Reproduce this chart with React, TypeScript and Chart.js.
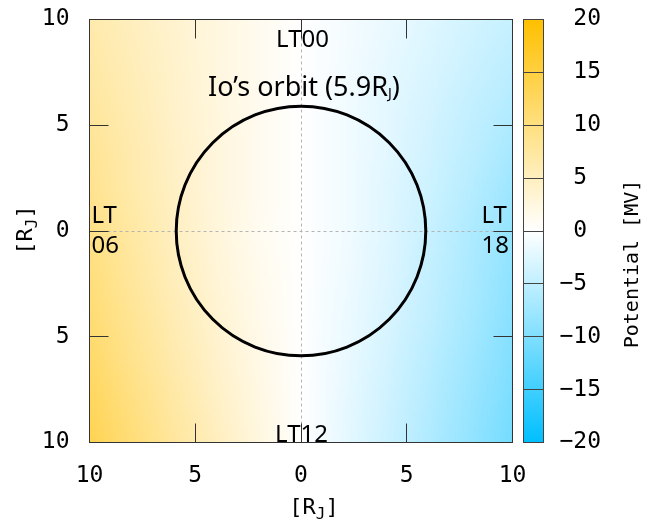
import React, { useEffect, useRef } from 'react';
import { Chart, registerables } from 'chart.js';

Chart.register(...registerables);

// ---- Data ----
const X_NODES = [-10, -8, -6, -4, -2, 0, 2, 4, 6, 8, 10];
const Y_NODES = [10, 8, 6, 4, 2, 0, -2, -4, -6, -8, -10];

// Potential [MV] along each row (x = -10 ... 10)
const ROW_Y_P10 = [6.5, 5.0, 3.7, 2.4, 1.2, 0, -0.8, -1.6, -2.5, -3.5, -4.5];
const ROW_Y_P8 = [7.0, 5.4, 3.9, 2.5, 1.2, 0, -0.9, -1.9, -2.9, -4.0, -5.2];
const ROW_Y_P6 = [7.6, 5.8, 4.1, 2.6, 1.2, 0, -1.0, -2.1, -3.3, -4.6, -6.0];
const ROW_Y_P4 = [8.2, 6.2, 4.3, 2.7, 1.2, 0, -1.0, -2.2, -3.6, -5.1, -6.8];
const ROW_Y_P2 = [8.8, 6.5, 4.5, 2.7, 1.2, 0, -1.0, -2.4, -3.9, -5.7, -7.7];
const ROW_Y_0 = [9.5, 7.1, 4.8, 2.8, 1.1, 0, -1.0, -2.5, -4.3, -6.3, -8.5];
const ROW_Y_M2 = [10.2, 7.6, 5.2, 3.1, 1.4, 0, -1.2, -2.7, -4.6, -6.6, -8.9];
const ROW_Y_M4 = [10.9, 8.2, 5.7, 3.5, 1.6, 0, -1.4, -3.0, -4.9, -7.0, -9.3];
const ROW_Y_M6 = [11.7, 8.9, 6.3, 4.0, 1.9, 0, -1.6, -3.4, -5.4, -7.5, -9.9];
const ROW_Y_M8 = [12.6, 9.7, 7.0, 4.5, 2.2, 0, -1.8, -3.7, -5.8, -8.0, -10.4];
const ROW_Y_M10 = [13.5, 10.5, 7.6, 5.0, 2.4, 0, -2.0, -4.0, -6.2, -8.5, -11.0];

const POTENTIAL_ROWS = [
  ROW_Y_P10, ROW_Y_P8, ROW_Y_P6, ROW_Y_P4, ROW_Y_P2, ROW_Y_0,
  ROW_Y_M2, ROW_Y_M4, ROW_Y_M6, ROW_Y_M8, ROW_Y_M10,
];

const AXIS_TICKS = [-10, -5, 0, 5, 10];
const CB_TICKS = [-20, -15, -10, -5, 0, 5, 10, 15, 20];
const CB_MIN = -20;
const CB_MAX = 20;
const CB_COLOR_NEG = '#00BFFF';
const CB_COLOR_MID = '#FFFFFF';
const CB_COLOR_POS = '#FFC000';
const IO_ORBIT_RADIUS = 5.9;

const MONO = '"DejaVu Sans Mono", monospace';
const SANS = '"Noto Sans", "Open Sans", sans-serif';

function hexToRgb(h: string): number[] {
  const n = parseInt(h.slice(1), 16);
  return [(n >> 16) & 255, (n >> 8) & 255, n & 255];
}

function potentialColor(v: number): number[] {
  const t = Math.max(-1, Math.min(1, v / CB_MAX));
  const end = hexToRgb(t >= 0 ? CB_COLOR_POS : CB_COLOR_NEG);
  const mid = hexToRgb(CB_COLOR_MID);
  const a = Math.abs(t);
  return [0, 1, 2].map((k) => Math.round(mid[k] + (end[k] - mid[k]) * a));
}

function drawRJ(ctx: CanvasRenderingContext2D, cx: number, baseline: number) {
  const big = `22px ${MONO}`;
  const small = `16px ${MONO}`;
  ctx.font = big;
  const w1 = ctx.measureText('[R').width;
  const w3 = ctx.measureText(']').width;
  ctx.font = small;
  const w2 = ctx.measureText('J').width;
  let x = cx - (w1 + w2 + w3) / 2;
  ctx.textAlign = 'left';
  ctx.textBaseline = 'alphabetic';
  ctx.font = big;
  ctx.fillText('[R', x, baseline);
  x += w1;
  ctx.font = small;
  ctx.fillText('J', x, baseline + 5);
  x += w2;
  ctx.font = big;
  ctx.fillText(']', x, baseline);
}

const mapPlugin = {
  id: 'potentialMap',
  beforeDatasetsDraw(chart: any) {
    const { ctx, chartArea: ca, scales } = chart;
    const xs = scales.x;
    const ys = scales.y;
    const cb = scales.cb;

    // --- heat map cells ---
    const nx = X_NODES.length;
    const ny = Y_NODES.length;
    const off = document.createElement('canvas');
    off.width = nx;
    off.height = ny;
    const octx = off.getContext('2d')!;
    const img = octx.createImageData(nx, ny);
    for (let j = 0; j < ny; j++) {
      for (let i = 0; i < nx; i++) {
        const c = potentialColor(POTENTIAL_ROWS[j][i]);
        const p = (j * nx + i) * 4;
        img.data[p] = c[0];
        img.data[p + 1] = c[1];
        img.data[p + 2] = c[2];
        img.data[p + 3] = 255;
      }
    }
    octx.putImageData(img, 0, 0);
    const x0 = xs.getPixelForValue(X_NODES[0]);
    const x1 = xs.getPixelForValue(X_NODES[nx - 1]);
    const y0 = ys.getPixelForValue(Y_NODES[0]);
    const y1 = ys.getPixelForValue(Y_NODES[ny - 1]);

    ctx.save();
    ctx.beginPath();
    ctx.rect(ca.left, ca.top, ca.width, ca.height);
    ctx.clip();
    ctx.imageSmoothingEnabled = true;
    ctx.imageSmoothingQuality = 'low';
    ctx.drawImage(off, 0.5, 0.5, nx - 1, ny - 1, x0, y0, x1 - x0, y1 - y0);

    // --- zero axes (dashed) ---
    ctx.strokeStyle = '#b4b4b4';
    ctx.lineWidth = 1;
    ctx.setLineDash([3, 3]);
    const zx = Math.round(xs.getPixelForValue(0)) + 0.5;
    const zy = Math.round(ys.getPixelForValue(0)) + 0.5;
    ctx.beginPath();
    ctx.moveTo(zx, ca.top);
    ctx.lineTo(zx, ca.bottom);
    ctx.moveTo(ca.left, zy);
    ctx.lineTo(ca.right, zy);
    ctx.stroke();
    ctx.setLineDash([]);

    // --- Io's orbit ---
    const cx = xs.getPixelForValue(0);
    const cy = ys.getPixelForValue(0);
    const r = xs.getPixelForValue(IO_ORBIT_RADIUS) - cx;
    ctx.strokeStyle = '#000';
    ctx.lineWidth = 3;
    ctx.beginPath();
    ctx.arc(cx, cy, r, 0, Math.PI * 2);
    ctx.stroke();
    ctx.restore();

    // --- inward ticks and border ---
    const tickLen = 19;
    ctx.save();
    ctx.strokeStyle = '#333';
    ctx.lineWidth = 1;
    ctx.beginPath();
    AXIS_TICKS.forEach((v) => {
      const px = Math.round(xs.getPixelForValue(v) - 0.5) + 0.5;
      ctx.moveTo(px, ca.bottom);
      ctx.lineTo(px, ca.bottom - tickLen);
      ctx.moveTo(px, ca.top);
      ctx.lineTo(px, ca.top + tickLen);
      const py = Math.round(ys.getPixelForValue(v) - 0.5) + 0.5;
      ctx.moveTo(ca.left, py);
      ctx.lineTo(ca.left + tickLen, py);
      ctx.moveTo(ca.right, py);
      ctx.lineTo(ca.right - tickLen, py);
    });
    ctx.stroke();
    ctx.strokeRect(ca.left, ca.top, ca.width, ca.height);

    // --- colour bar ---
    const bx = ca.right + 11;
    const bw = 20;
    const bt = cb.getPixelForValue(CB_MAX);
    const bb = cb.getPixelForValue(CB_MIN);
    const grad = ctx.createLinearGradient(0, bt, 0, bb);
    grad.addColorStop(0, CB_COLOR_POS);
    grad.addColorStop(0.5, CB_COLOR_MID);
    grad.addColorStop(1, CB_COLOR_NEG);
    ctx.fillStyle = grad;
    ctx.fillRect(bx, bt, bw, bb - bt);
    ctx.strokeStyle = '#444';
    ctx.beginPath();
    CB_TICKS.forEach((v) => {
      if (v === CB_MIN || v === CB_MAX) return;
      const py = Math.round(cb.getPixelForValue(v) - 0.5) + 0.5;
      ctx.moveTo(bx, py);
      ctx.lineTo(bx + bw, py);
    });
    ctx.stroke();
    ctx.strokeRect(bx, bt, bw, bb - bt);
    ctx.restore();
  },
  afterDraw(chart: any) {
    const { ctx, chartArea: ca, scales } = chart;
    const xs = scales.x;
    const ys = scales.y;
    const cx = xs.getPixelForValue(0);
    const cy = ys.getPixelForValue(0);
    ctx.save();
    ctx.fillStyle = '#000';

    // axis titles
    drawRJ(ctx, cx + 13, ca.bottom + 71);
    ctx.save();
    ctx.translate(31.5, cy - 1);
    ctx.rotate(-Math.PI / 2);
    drawRJ(ctx, 0, 0);
    ctx.restore();

    ctx.save();
    ctx.translate(ca.right + 125.5, cy + 33);
    ctx.rotate(-Math.PI / 2);
    ctx.font = `20px ${MONO}`;
    ctx.textAlign = 'center';
    ctx.textBaseline = 'alphabetic';
    ctx.fillText('Potential [MV]', 0, 0);
    ctx.restore();

    // local time annotations
    ctx.font = `24px ${SANS}`;
    ctx.textBaseline = 'alphabetic';
    ctx.textAlign = 'center';
    ctx.fillText('LT00', cx + 1.5, ca.top + 27.5);
    ctx.fillText('LT12', cx + 0.5, ca.bottom - 1);
    ctx.textAlign = 'left';
    ctx.fillText('LT', ca.left + 2, cy - 8);
    ctx.fillText('06', ca.left + 2, cy + 21.5);
    ctx.fillText('LT', ca.right - 31, cy - 8);
    ctx.fillText('18', ca.right - 31, cy + 21.5);

    // Io's orbit label
    const main = 'Io\u2019s orbit (5.9R';
    const mainFont = `27px ${SANS}`;
    const subFont = `14px ${SANS}`;
    ctx.font = mainFont;
    const wm = ctx.measureText(main).width;
    const wp = ctx.measureText(')').width;
    ctx.font = subFont;
    const wj = ctx.measureText('J').width;
    let x = cx + 3 - (wm + wj + wp) / 2;
    const base = ca.top + 76.5;
    ctx.font = mainFont;
    ctx.fillText(main, x, base);
    x += wm;
    ctx.font = subFont;
    ctx.fillText('J', x, base + 2);
    x += wj;
    ctx.font = mainFont;
    ctx.fillText(')', x, base);
    ctx.restore();
  },
};

export default function App() {
  const canvasRef = useRef<HTMLCanvasElement | null>(null);

  useEffect(() => {
    const canvas = canvasRef.current;
    if (!canvas) return;
    const tickFont = { family: MONO, size: 23 };
    const chart = new Chart(canvas, {
      type: 'scatter',
      data: { datasets: [] },
      options: {
        responsive: false,
        maintainAspectRatio: false,
        animation: false,
        layout: { padding: { top: 19.5, left: 0, right: 0, bottom: 0 } },
        plugins: {
          legend: { display: false },
          tooltip: { enabled: false },
          title: { display: false },
        },
        scales: {
          x: {
            type: 'linear',
            position: 'bottom',
            min: -10,
            max: 10,
            afterBuildTicks: (s: any) => {
              s.ticks = AXIS_TICKS.map((v) => ({ value: v }));
            },
            ticks: {
              callback: (v: any) => String(Math.abs(Number(v))),
              font: tickFont,
              color: '#000',
              padding: 20,
              maxRotation: 0,
              autoSkip: false,
            },
            grid: { display: false, drawTicks: false },
            border: { display: false },
            afterFit: (s: any) => {
              s.height = 77.5;
            },
          },
          y: {
            type: 'linear',
            position: 'left',
            min: -10,
            max: 10,
            afterBuildTicks: (s: any) => {
              s.ticks = AXIS_TICKS.map((v) => ({ value: v }));
            },
            ticks: {
              callback: (v: any) => String(Math.abs(Number(v))),
              font: tickFont,
              color: '#000',
              padding: 2,
              autoSkip: false,
            },
            grid: { display: false, drawTicks: true, tickLength: 18 },
            border: { display: false },
            afterFit: (s: any) => {
              s.width = 89.5;
            },
          },
          cb: {
            type: 'linear',
            position: 'right',
            axis: 'y',
            min: CB_MIN,
            max: CB_MAX,
            afterBuildTicks: (s: any) => {
              s.ticks = CB_TICKS.map((v) => ({ value: v }));
            },
            ticks: {
              callback: (v: any) => {
                const n = Number(v);
                return n < 0 ? '\u2212' + Math.abs(n) : ' ' + n;
              },
              font: tickFont,
              color: '#000',
              padding: 2,
              crossAlign: 'near',
              autoSkip: false,
            },
            grid: { display: false, drawTicks: true, tickLength: 45 },
            border: { display: false },
            afterFit: (s: any) => {
              s.width = 140.5;
            },
          },
        },
      } as any,
      plugins: [mapPlugin],
    });
    return () => chart.destroy();
  }, []);

  return (
    <div
      style={{
        position: 'fixed',
        left: 0,
        top: 0,
        width: 653,
        height: 520,
        background: '#fff',
      }}
    >
      <canvas ref={canvasRef} width={653} height={520} style={{ width: 653, height: 520, display: 'block' }} />
    </div>
  );
}
